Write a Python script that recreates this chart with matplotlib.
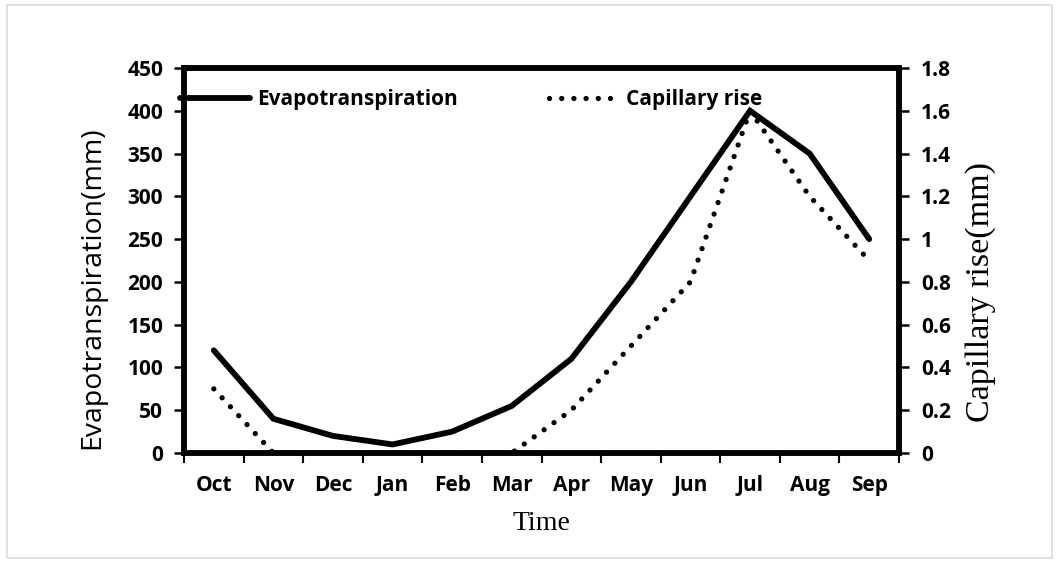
import matplotlib
matplotlib.use("Agg")
import matplotlib.pyplot as plt
from matplotlib.patches import Rectangle
import numpy as np

months = ["Oct", "Nov", "Dec", "Jan", "Feb", "Mar", "Apr", "May", "Jun", "Jul", "Aug", "Sep"]
evapotranspiration = [120, 40, 20, 10, 25, 55, 110, 200, 300, 400, 350, 250]
capillary_rise = [0.3, 0, 0, 0, 0, 0, 0.2, 0.5, 0.8, 1.6, 1.2, 0.9]
left_ticks = [0, 50, 100, 150, 200, 250, 300, 350, 400, 450]
right_ticks = [0, 0.2, 0.4, 0.6, 0.8, 1.0, 1.2, 1.4, 1.6, 1.8]
right_tick_labels = ["0", "0.2", "0.4", "0.6", "0.8", "1", "1.2", "1.4", "1.6", "1.8"]

W, H = 1061, 571
fig = plt.figure(figsize=(W / 100, H / 100), dpi=100)
fig.patch.set_facecolor("white")

# light outer border
fig.add_artist(Rectangle((7 / W, 1 - 558 / H), (1052 - 7) / W, (558 - 5) / H,
                         transform=fig.transFigure, fill=False,
                         edgecolor="#dcdcdc", linewidth=1.2))

ax = fig.add_axes([184 / W, 1 - 453 / H, (899 - 184) / W, (453 - 68) / H])
ax2 = ax.twinx()

x = np.arange(len(months))
tick_font = dict(family="Open Sans", weight="bold", size=15)

l1, = ax.plot(x, evapotranspiration, color="black", linewidth=4.2,
              solid_joinstyle="miter", solid_capstyle="round", zorder=3)
l2, = ax2.plot(x, capillary_rise, color="black", linewidth=3.8,
               linestyle=(0, (0.01, 2.3)), dash_capstyle="round", zorder=3)

ax.set_xlim(-0.5, len(months) - 0.5)
ax.set_ylim(0, 450)
ax2.set_ylim(0, 1.8)

ax.set_yticks(left_ticks)
ax.set_yticklabels([str(v) for v in left_ticks], fontdict=tick_font)
ax2.set_yticks(right_ticks)
ax2.set_yticklabels(right_tick_labels, fontdict=tick_font)

ax.set_xticks(np.arange(-0.5, len(months), 1.0))
ax.set_xticklabels([])
ax.set_xticks(x, minor=True)
ax.set_xticklabels(months, minor=True, fontdict=tick_font)
ax.tick_params(axis="x", which="minor", length=0, pad=16)
ax.tick_params(axis="x", which="major", direction="out", length=7, width=1.5)
ax.tick_params(axis="y", direction="out", length=7, width=1.8, pad=8)
ax2.tick_params(axis="y", direction="out", length=7, width=1.8, pad=9)

for a in (ax, ax2):
    for s in a.spines.values():
        s.set_linewidth(4)
        s.set_color("black")

ax.set_ylabel("Evapotranspiration(mm)", family="Open Sans", size=20.5)
ax.yaxis.set_label_coords((92 - 184) / 715, (453 - 288) / 385)
ax.yaxis.label.set_va("center")
ax.yaxis.label.set_ha("center")

ax2.set_ylabel("Capillary rise(mm)", family="Liberation Serif", size=24.5, rotation=90)
ax2.yaxis.set_label_coords((981 - 184) / 715, (453 - 292) / 385)
ax2.yaxis.label.set_va("center")
ax2.yaxis.label.set_ha("center")

ax.set_xlabel("Time", family="Liberation Serif", size=20)
ax.xaxis.set_label_coords(0.5, (453 - 523) / 385)
ax.xaxis.label.set_va("center")

leg = ax.legend([l1, l2], ["Evapotranspiration", "Capillary rise"], ncol=2,
                loc="center left", bbox_to_anchor=(-0.006, (453 - 100) / 385),
                frameon=False, borderpad=0, borderaxespad=0,
                handlelength=3.36, handletextpad=0.34, columnspacing=4.4,
                prop=dict(family="Open Sans", weight="bold", size=15))
leg.set_zorder(5)

fig.savefig("out.png", dpi=100, facecolor="white")
